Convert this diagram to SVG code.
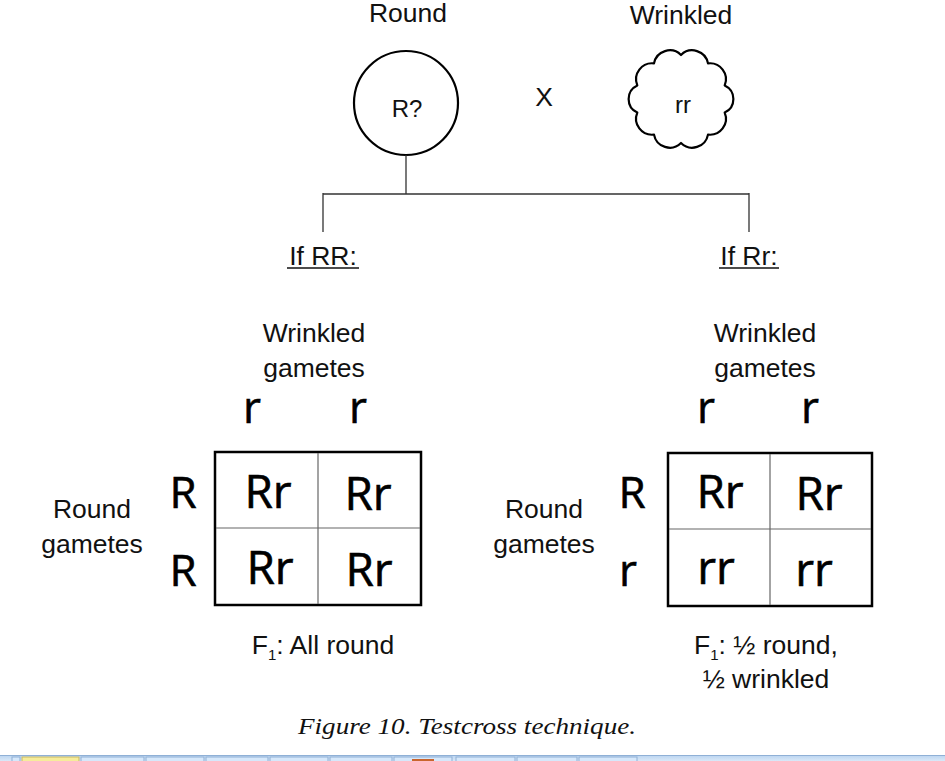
<svg xmlns="http://www.w3.org/2000/svg" width="945" height="761" viewBox="0 0 945 761">
<defs>
<style>
.lbl{font-family:"Liberation Sans",Arial,sans-serif;font-size:26.5px;fill:#111;text-anchor:middle}
.big{font-family:"Open Sans","Noto Sans",sans-serif;font-size:44px;fill:#000;text-anchor:middle;stroke:#000;stroke-width:0.6}
.cell{font-family:"Open Sans","Noto Sans",sans-serif;font-size:46px;fill:#000;text-anchor:middle;stroke:#000;stroke-width:0.6}
.conn{stroke:#333;stroke-width:1.3;fill:none}
.outer{fill:#fff;stroke:#000;stroke-width:2.5}
.inner{stroke:#666;stroke-width:1.2}
.cap{font-family:"Liberation Serif","Times New Roman",serif;font-style:italic;font-size:23px;fill:#111;text-anchor:middle}
.btn{fill:#d6e8fb;stroke:#8fb0d6;stroke-width:1}
</style>
<linearGradient id="tb" x1="0" y1="0" x2="0" y2="1"><stop offset="0" stop-color="#b9d3f0"/><stop offset="1" stop-color="#d9e8f8"/></linearGradient>
</defs>
<rect width="945" height="761" fill="#fff"/>

<g id="parent-round">
<text class="lbl" x="408" y="22">Round</text>
<circle cx="406" cy="103" r="52" fill="#fff" stroke="#000" stroke-width="2.2"/>
<text class="lbl" x="407" y="117" style="font-size:24px">R?</text>
</g>

<g id="cross">
<text class="lbl" x="544" y="106">X</text>
</g>

<g id="parent-wrinkled">
<text class="lbl" x="681" y="24">Wrinkled</text>
<path d="M681,55 A16,16 0 0 1 708,63.4 A16,16 0 0 1 724.7,85.4 A15,15 0 0 1 724.7,112.6 A16,16 0 0 1 708,134.6 A16,16 0 0 1 681,143 A16,16 0 0 1 654,134.6 A16,16 0 0 1 637.3,112.6 A15,15 0 0 1 637.3,85.4 A16,16 0 0 1 654,63.4 A16,16 0 0 1 681,55 Z" fill="#fff" stroke="#000" stroke-width="2.2" stroke-linejoin="round"/>
<text class="lbl" x="683" y="113" style="font-size:24px">rr</text>
</g>

<g id="connectors">
<path class="conn" d="M406,155 V194 M323,194 H749 M323,193 V232 M749,193 V232"/>
</g>

<g id="case-RR">
<text class="lbl" x="323" y="265">If RR:</text>
<line x1="287" y1="268" x2="359" y2="268" stroke="#111" stroke-width="1.5"/>
<text class="lbl" x="314" y="342">Wrinkled</text>
<text class="lbl" x="314" y="377">gametes</text>
<text class="big" x="252" y="423">r</text>
<text class="big" x="358" y="423">r</text>
<text class="lbl" x="92" y="518">Round</text>
<text class="lbl" x="92" y="553">gametes</text>
<text class="big" x="183" y="508">R</text>
<text class="big" x="183" y="586">R</text>
<rect class="outer" x="215" y="452" width="206" height="153"/>
<line class="inner" x1="318" y1="453" x2="318" y2="604"/>
<line class="inner" x1="216" y1="528" x2="420" y2="528"/>
<text class="cell" x="268" y="508">Rr</text>
<text class="cell" x="368" y="510">Rr</text>
<text class="cell" x="270" y="584">Rr</text>
<text class="cell" x="369" y="586">Rr</text>
<text class="lbl" x="323" y="654">F<tspan dy="6" style="font-size:15px">1</tspan><tspan dy="-6">: All round</tspan></text>
</g>

<g id="case-Rr">
<text class="lbl" x="749" y="265">If Rr:</text>
<line x1="719" y1="268" x2="779" y2="268" stroke="#111" stroke-width="1.5"/>
<text class="lbl" x="765" y="342">Wrinkled</text>
<text class="lbl" x="765" y="377">gametes</text>
<text class="big" x="706" y="423">r</text>
<text class="big" x="810" y="423">r</text>
<text class="lbl" x="544" y="518">Round</text>
<text class="lbl" x="544" y="553">gametes</text>
<text class="big" x="632" y="508">R</text>
<text class="big" x="628" y="586">r</text>
<rect class="outer" x="668" y="453" width="204" height="153"/>
<line class="inner" x1="770" y1="454" x2="770" y2="605"/>
<line class="inner" x1="669" y1="529" x2="871" y2="529"/>
<text class="cell" x="720" y="508">Rr</text>
<text class="cell" x="819" y="510">Rr</text>
<text class="cell" x="716" y="584">rr</text>
<text class="cell" x="814" y="586">rr</text>
<text class="lbl" x="766" y="654">F<tspan dy="6" style="font-size:15px">1</tspan><tspan dy="-6">: ½ round,</tspan></text>
<text class="lbl" x="766" y="688">½ wrinkled</text>
</g>

<g id="caption">
<text class="cap" x="467" y="734" textLength="338" lengthAdjust="spacingAndGlyphs">Figure 10. Testcross technique.</text>
</g>

<g id="taskbar">
<rect x="0" y="755" width="945" height="6" fill="url(#tb)"/>
<rect x="0" y="755" width="945" height="1" fill="#8fb0d6"/>
<rect class="btn" x="12" y="757" width="8" height="6"/>
<rect x="22" y="757" width="57" height="6" fill="#f6ec9a" stroke="#c8b860"/>
<rect class="btn" x="81" y="757" width="63" height="6"/>
<rect class="btn" x="146" y="757" width="58" height="6"/>
<rect class="btn" x="206" y="757" width="62" height="6"/>
<rect class="btn" x="270" y="757" width="58" height="6"/>
<rect class="btn" x="330" y="757" width="62" height="6"/>
<rect class="btn" x="394" y="757" width="58" height="6"/>
<rect x="412" y="759" width="22" height="4" fill="#c9652e"/>
<rect class="btn" x="456" y="757" width="59" height="6"/>
<rect class="btn" x="517" y="757" width="60" height="6"/>
<rect class="btn" x="579" y="757" width="58" height="6"/>
</g>
</svg>
